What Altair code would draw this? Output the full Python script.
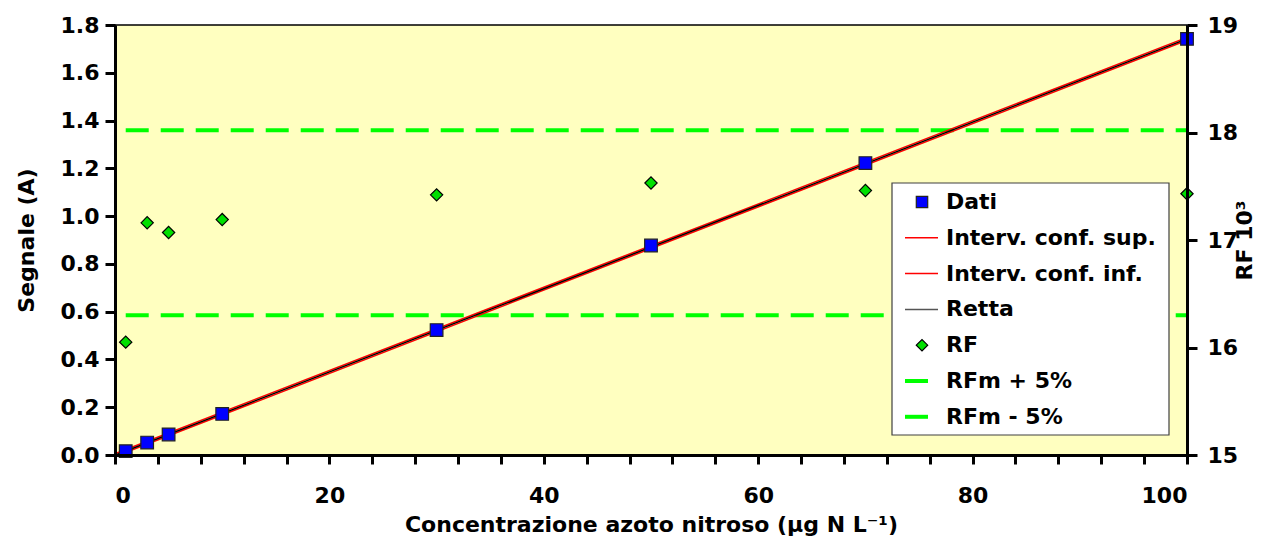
import altair as alt
import pandas as pd

# ---- data ----
conc = [1, 3, 5, 10, 30, 50, 70, 100]
segnale = [0.016, 0.052, 0.086, 0.172, 0.523, 0.877, 1.222, 1.742]
rf = [16.05, 17.16, 17.07, 17.19, 17.42, 17.53, 17.46, 17.43]
retta_x = [0, 100]
retta_y = [-0.001, 1.742]
conf_sup_y = [0.005, 1.748]
conf_inf_y = [-0.007, 1.736]
rfm_x = [1, 100]
rfm_plus = [18.02, 18.02]
rfm_minus = [16.30, 16.30]
x_ticks = list(range(0, 101, 4))
y_left_ticks = [0.0, 0.2, 0.4, 0.6, 0.8, 1.0, 1.2, 1.4, 1.6, 1.8]
y_right_ticks = [15, 15.5, 16, 16.5, 17, 17.5, 18, 18.5, 19]
legend_labels = ["Dati", "Interv. conf. sup.", "Interv. conf. inf.", "Retta",
                 "RF", "RFm + 5%", "RFm - 5%"]

FONT = "DejaVu Sans"
FS = 22
W, H = 1072, 430
GREEN = "#00FF00"

dati = pd.DataFrame({"x": conc, "y": segnale})
rf_df = pd.DataFrame({"x": conc, "rf": rf})
lines_df = pd.DataFrame({"x": retta_x, "retta": retta_y, "sup": conf_sup_y, "inf": conf_inf_y})
rfm_df = pd.DataFrame({"x": rfm_x, "plus": rfm_plus, "minus": rfm_minus})
leg = pd.DataFrame({"label": legend_labels, "row": list(range(len(legend_labels)))})

common_axis = dict(labelFont=FONT, labelFontWeight="bold", labelFontSize=FS, labelColor="black",
                   titleFont=FONT, titleFontWeight="bold", titleFontSize=FS, titleColor="black",
                   domainColor="black", domainWidth=3, tickColor="black", tickWidth=3,
                   grid=False, zindex=1)

X = alt.X("x:Q", scale=alt.Scale(domain=[0, 100], nice=False, zero=False),
          axis=alt.Axis(values=x_ticks, labelExpr="datum.value % 20 == 0 ? datum.label : ''",
                        tickSize=9, labelPadding=21, titlePadding=8,
                        title="Concentrazione azoto nitroso (µg N L⁻¹)", **common_axis))

left_scale = alt.Scale(domain=[0, 1.8], nice=False, zero=False)
left_axis = alt.Axis(values=y_left_ticks, format=".1f", orient="left", tickSize=10,
                     labelPadding=6, titlePadding=22, title="Segnale (A)", **common_axis)
right_scale = alt.Scale(domain=[15, 19], nice=False, zero=False)
right_axis = alt.Axis(values=y_right_ticks, format="d", orient="right", tickSize=10,
                      labelExpr="datum.value % 1 == 0 ? datum.label : ''",
                      labelPadding=10, titlePadding=-3, titleAngle=270, titleBaseline="top",
                      title="RF 10³", **common_axis)

# ---- right-axis layers (RF) ----
dash_plus = alt.Chart(rfm_df).mark_line(color=GREEN, strokeWidth=4, strokeDash=[23, 12], strokeCap="butt").encode(
    x=X, y=alt.Y("plus:Q", scale=right_scale, axis=right_axis))
dash_minus = alt.Chart(rfm_df).mark_line(color=GREEN, strokeWidth=4, strokeDash=[23, 12], strokeCap="butt").encode(
    x=X, y=alt.Y("minus:Q", scale=right_scale, axis=right_axis))
rf_pts = alt.Chart(rf_df).mark_point(shape="diamond", filled=True, fill="#00E000", stroke="black",
                                     strokeWidth=1.2, size=150, opacity=1).encode(
    x=X, y=alt.Y("rf:Q", scale=right_scale, axis=right_axis))
right = alt.layer(dash_plus, dash_minus, rf_pts)

# ---- left-axis layers (Segnale) ----
sup = alt.Chart(lines_df).mark_line(color="red", strokeWidth=1.5).encode(
    x=X, y=alt.Y("sup:Q", scale=left_scale, axis=left_axis))
inf = alt.Chart(lines_df).mark_line(color="red", strokeWidth=1.5).encode(
    x=X, y=alt.Y("inf:Q", scale=left_scale, axis=left_axis))
retta = alt.Chart(lines_df).mark_line(color="black", strokeWidth=1.5).encode(
    x=X, y=alt.Y("retta:Q", scale=left_scale, axis=left_axis))
dati_pts = alt.Chart(dati).mark_point(shape="square", filled=True, fill="#0000FF", stroke="#222222",
                                      strokeWidth=1.2, size=160, opacity=1).encode(
    x=X, y=alt.Y("y:Q", scale=left_scale, axis=left_axis))
left = alt.layer(sup, inf, retta, dati_pts)

# ---- legend (drawn manually) ----
LY = alt.Y("ly:Q", scale=None, axis=None)
lbase = alt.Chart(leg).transform_calculate(ly="177 + datum.row * 35.8")
box = alt.Chart(pd.DataFrame({"a": [0]})).mark_rect(fill="white", stroke="#404040", strokeWidth=1.2).encode(
    x=alt.value(777), x2=alt.value(1054), y=alt.value(158), y2=alt.value(410))
leg_sq = lbase.transform_filter("datum.row == 0").mark_point(
    shape="square", filled=True, fill="#0000FF", stroke="#222222", strokeWidth=1.2, size=130, opacity=1).encode(
    x=alt.value(807), y=LY)
leg_red = lbase.transform_filter("datum.row == 1 || datum.row == 2").mark_rule(color="red", strokeWidth=1.5).encode(
    x=alt.value(790), x2=alt.value(823), y=LY)
leg_black = lbase.transform_filter("datum.row == 3").mark_rule(color="#555555", strokeWidth=1.5).encode(
    x=alt.value(790), x2=alt.value(823), y=LY)
leg_dia = lbase.transform_filter("datum.row == 4").mark_point(
    shape="diamond", filled=True, fill="#00E000", stroke="black", strokeWidth=1.2, size=130, opacity=1).encode(
    x=alt.value(807), y=LY)
leg_green = lbase.transform_filter("datum.row >= 5").mark_rule(color=GREEN, strokeWidth=4).encode(
    x=alt.value(790), x2=alt.value(813), y=LY)
leg_text = lbase.mark_text(align="left", baseline="middle", font=FONT, fontWeight="bold",
                           fontSize=FS, color="black").encode(
    x=alt.value(831), y=LY, text="label:N")
legend = alt.layer(box, leg_sq, leg_red, leg_black, leg_dia, leg_green, leg_text)

chart = alt.layer(right, left, legend).resolve_scale(y="independent").properties(
    width=W, height=H,
    autosize=alt.AutoSizeParams(type="none"),
    padding={"left": 107, "top": 17, "right": 71, "bottom": 84},
).configure_view(fill="#FFFFC0", stroke="black", strokeWidth=1.5)

chart.save("out.html", embed_options={"renderer": "svg", "actions": False})
